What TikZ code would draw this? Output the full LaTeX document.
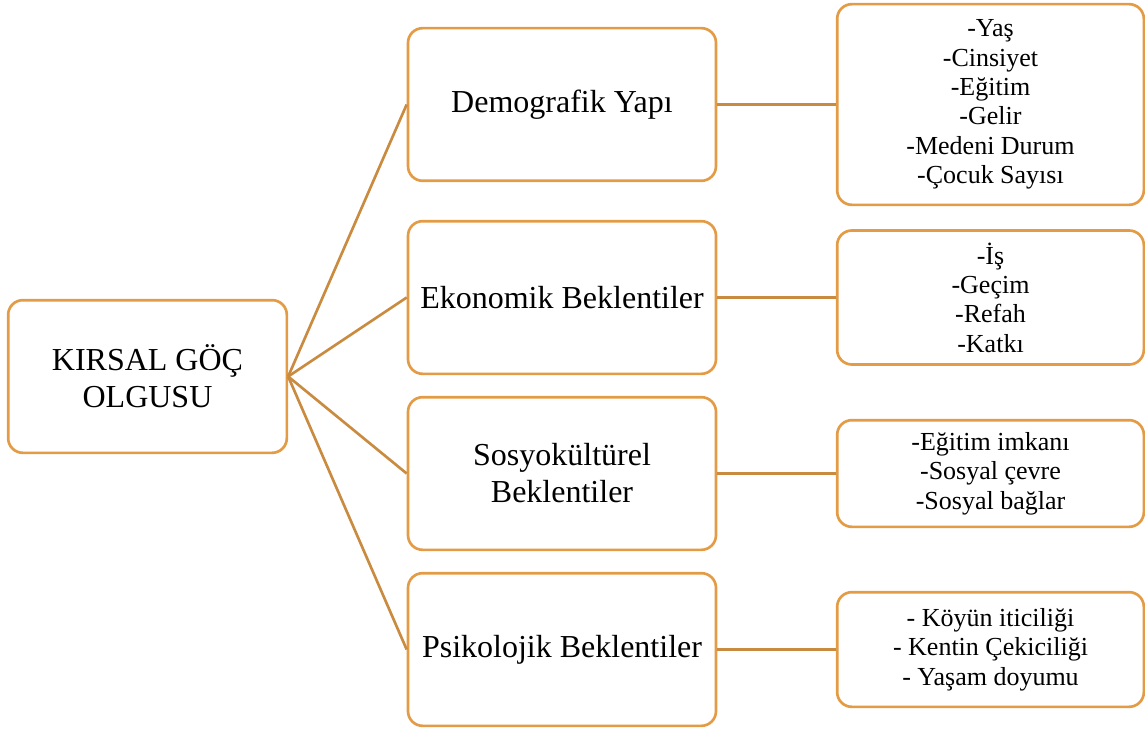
\documentclass[tikz,border=0pt]{standalone}
\usepackage{fontspec}
\setmainfont{Liberation Serif}
\usepackage{color}
\definecolor{BoxEdge}{HTML}{E39B45}
\definecolor{LinkLine}{HTML}{C98B3F}
\begin{document}
\begin{tikzpicture}[x=0.75pt,y=-0.75pt,
    box/.style={draw=BoxEdge,line width=2pt,rounded corners=11pt,fill=white,align=center,inner sep=2pt},
    rootbox/.style={box,minimum width=209pt,minimum height=114.5pt,font=\fontsize{24}{27.75}\selectfont},
    midbox/.style={box,minimum width=231pt,minimum height=114.5pt,font=\fontsize{24}{27.75}\selectfont},
    listbox/.style={box,minimum width=230pt,font=\fontsize{19.5}{22}\selectfont},
    link/.style={draw=LinkLine,line width=2pt}]
        \useasboundingbox (0,0) rectangle (1145,731);
        % main node
        \node[rootbox] (root) at (147.5,376.5) {KIRSAL GÖÇ\\OLGUSU};
        % middle column
        \node[midbox] (demo) at (562,104.5) {Demografik Yapı};
        \node[midbox] (eko) at (562,297.5) {Ekonomik Beklentiler};
        \node[midbox] (sosyo) at (562,473.5) {Sosyokültürel\\Beklentiler};
        \node[midbox] (psiko) at (562,649.5) {Psikolojik Beklentiler};
        % right column
        \node[listbox,minimum height=150.5pt] (demolist) at (990.5,104.5) {-Yaş\\-Cinsiyet\\-Eğitim\\-Gelir\\-Medeni Durum\\-Çocuk Sayısı};
        \node[listbox,minimum height=100.5pt] (ekolist) at (990.5,297.5) {-İş\\-Geçim\\-Refah\\-Katkı};
        \node[listbox,minimum height=80pt] (sosyolist) at (990.5,473.5) {-Eğitim imkanı\\-Sosyal çevre\\-Sosyal bağlar};
        \node[listbox,minimum height=86pt] (psikolist) at (990.5,649.5) {- Köyün iticiliği\\- Kentin Çekiciliği\\- Yaşam doyumu};
        % connectors
        \draw[link] (root.east) -- (demo.west);
        \draw[link] (root.east) -- (eko.west);
        \draw[link] (root.east) -- (sosyo.west);
        \draw[link] (root.east) -- (psiko.west);
        \draw[link] (demo.east) -- (demolist.west);
        \draw[link] (eko.east) -- (ekolist.west);
        \draw[link] (sosyo.east) -- (sosyolist.west);
        \draw[link] (psiko.east) -- (psikolist.west);
\end{tikzpicture}
\end{document}
